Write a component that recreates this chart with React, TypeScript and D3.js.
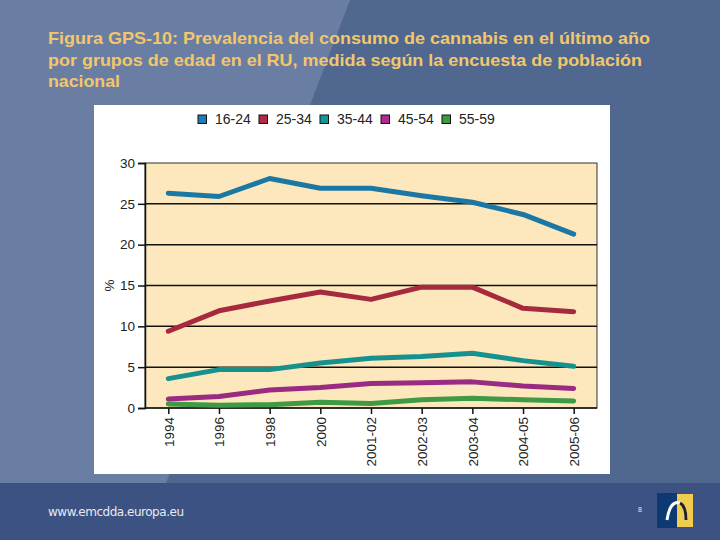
import { useEffect, useRef } from "react";
import * as d3 from "d3";

// Survey years (x axis) and prevalence (%) by age group
const years = ["1994", "1996", "1998", "2000", "2001-02", "2002-03", "2003-04", "2004-05", "2005-06"];
const ageGroups = ["16-24", "25-34", "35-44", "45-54", "55-59"];
const v1624 = [26.3, 25.9, 28.1, 26.9, 26.9, 26.0, 25.2, 23.7, 21.3];
const v2534 = [9.4, 11.9, 13.1, 14.2, 13.3, 14.8, 14.8, 12.2, 11.8];
const v3544 = [3.6, 4.7, 4.7, 5.5, 6.1, 6.3, 6.7, 5.8, 5.1];
const v4554 = [1.1, 1.4, 2.2, 2.5, 3.0, 3.1, 3.2, 2.7, 2.4];
const v5559 = [0.5, 0.35, 0.4, 0.7, 0.55, 1.0, 1.2, 1.0, 0.85];
const yTicks = [0, 5, 10, 15, 20, 25, 30];

const lineColors = ["#1b77a4", "#a62a3d", "#16918e", "#9a2a82", "#3e9a44"];
const swatchColors = ["#1e7db5", "#b02a45", "#0f9a98", "#b02a90", "#3d9b3d"];

const titleLines = [
  "Figura GPS-10: Prevalencia del consumo de cannabis en el último año",
  "por grupos de edad en el RU, medida según la encuesta de población",
  "nacional",
];
const titleWidths = [602, 594, 72];

export default function App() {
  const ref = useRef<SVGSVGElement>(null);

  useEffect(() => {
    if (!ref.current) return;
    const svg = d3.select(ref.current);
    svg.selectAll("*").remove();

    const W = 720, H = 540;
    const font = "Liberation Sans, Arial, sans-serif";

    // slide background
    svg.append("rect").attr("width", W).attr("height", H).attr("fill", "#50688f");
    svg.append("polygon").attr("points", "0,0 350,0 166,483 0,483").attr("fill", "#6a7ea4");
    svg.append("rect").attr("y", 483).attr("width", W).attr("height", H - 483).attr("fill", "#3b5282");

    // title
    titleLines.forEach((t, i) => {
      svg.append("text")
        .attr("x", 48).attr("y", 44 + i * 21.5)
        .attr("font-family", font).attr("font-weight", "bold").attr("font-size", 17)
        .attr("fill", "#f2c76b")
        .attr("textLength", titleWidths[i])
        .attr("lengthAdjust", "spacingAndGlyphs")
        .text(t);
    });

    // white chart panel
    svg.append("rect").attr("x", 94).attr("y", 105).attr("width", 516).attr("height", 369).attr("fill", "#ffffff");

    const plot = { left: 145, right: 597, top: 163, bottom: 408 };

    const x = d3.scalePoint<string>().domain(years).range([plot.left, plot.right]).padding(0.46);
    const y = d3.scaleLinear().domain([0, 30]).range([plot.bottom, plot.top]);

    svg.append("rect")
      .attr("x", plot.left).attr("y", plot.top)
      .attr("width", plot.right - plot.left).attr("height", plot.bottom - plot.top)
      .attr("fill", "#fce8bc").attr("stroke", "#333").attr("stroke-width", 1);

    // gridlines
    svg.append("g").selectAll("line")
      .data(yTicks.filter(d => d > 0 && d < 30))
      .join("line")
      .attr("x1", plot.left).attr("x2", plot.right)
      .attr("y1", d => y(d)).attr("y2", d => y(d))
      .attr("stroke", "#111").attr("stroke-width", 1.5);

    // y axis
    const yAxis = svg.append("g")
      .attr("transform", `translate(${plot.left},0)`)
      .call(d3.axisLeft(y).tickValues(yTicks).tickSize(7).tickPadding(3));
    yAxis.select(".domain").attr("stroke", "#111").attr("stroke-width", 1.5);
    yAxis.selectAll(".tick line").attr("stroke", "#111").attr("stroke-width", 1.5);
    yAxis.selectAll(".tick text")
      .attr("font-family", font).attr("font-size", 13.5).attr("fill", "#222");

    svg.append("text")
      .attr("transform", `translate(114,${(plot.top + plot.bottom) / 2}) rotate(-90)`)
      .attr("text-anchor", "middle")
      .attr("font-family", font).attr("font-size", 13.5).attr("fill", "#222")
      .text("%");

    // x axis
    const xAxis = svg.append("g")
      .attr("transform", `translate(0,${plot.bottom})`)
      .call(d3.axisBottom(x).tickSize(6).tickSizeOuter(0));
    xAxis.select(".domain").attr("stroke", "#111").attr("stroke-width", 1.5)
      .attr("d", `M${plot.left},0H${plot.right}`);
    xAxis.selectAll(".tick line").attr("stroke", "#111").attr("stroke-width", 1.5);
    xAxis.selectAll(".tick text")
      .attr("font-family", font).attr("font-size", 13.5).attr("fill", "#222")
      .attr("transform", "rotate(-90)")
      .attr("text-anchor", "end")
      .attr("dy", "0.35em")
      .attr("x", -9).attr("y", 0);

    // lines
    const series = [v1624, v2534, v3544, v4554, v5559];
    const line = d3.line<number>()
      .x((_, i) => x(years[i])!)
      .y(d => y(d));
    // draw bottom groups first so the top lines sit above
    svg.append("g").selectAll("path")
      .data(series.map((s, i) => ({ s, i })).reverse())
      .join("path")
      .attr("d", d => line(d.s))
      .attr("fill", "none")
      .attr("stroke", d => lineColors[d.i])
      .attr("stroke-width", 5)
      .attr("stroke-linejoin", "round")
      .attr("stroke-linecap", "round");

    // legend
    const legendX = [198, 259, 320, 381, 442];
    const legend = svg.append("g").selectAll("g")
      .data(ageGroups)
      .join("g")
      .attr("transform", (_, i) => `translate(${legendX[i]},115)`);
    legend.append("rect")
      .attr("width", 8.5).attr("height", 8.5)
      .attr("fill", (_, i) => swatchColors[i])
      .attr("stroke", "#111").attr("stroke-width", 1);
    legend.append("text")
      .attr("x", 17).attr("y", 4.5).attr("dy", "0.35em")
      .attr("font-family", font).attr("font-size", 14).attr("fill", "#222")
      .text(d => d);

    // footer
    svg.append("text")
      .attr("x", 48).attr("y", 516)
      .attr("font-family", "DejaVu Sans, sans-serif").attr("font-size", 12)
      .attr("fill", "#e6eaf2")
      .attr("textLength", 136)
      .text("www.emcdda.europa.eu");
    svg.append("text")
      .attr("x", 640).attr("y", 512)
      .attr("text-anchor", "middle")
      .attr("font-family", font).attr("font-size", 7).attr("fill", "#e6eaf2")
      .text("8");

    // logo
    svg.append("rect").attr("x", 657).attr("y", 493).attr("width", 20).attr("height", 35).attr("fill", "#0d3a75");
    svg.append("rect").attr("x", 677).attr("y", 494).attr("width", 16).attr("height", 33).attr("fill", "#f0cc50");
    svg.append("path")
      .attr("d", "M667,520 Q670,500 680,503 Q686,506 686,520")
      .attr("fill", "none").attr("stroke", "#ffffff").attr("stroke-width", 3);
    svg.append("path")
      .attr("d", "M680,503 Q686,506 686,520")
      .attr("fill", "none").attr("stroke", "#222").attr("stroke-width", 3);
  }, []);

  return (
    <svg ref={ref} width={720} height={540} style={{ position: "absolute", left: 0, top: 0 }} />
  );
}
